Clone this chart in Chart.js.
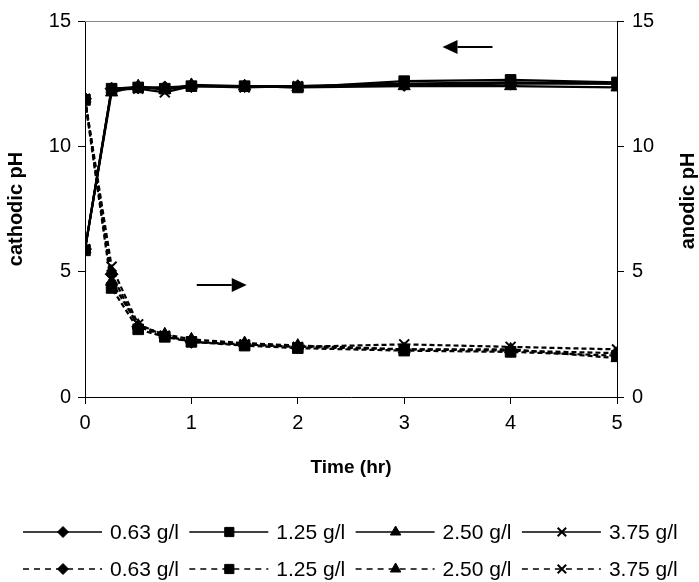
<!DOCTYPE html>
<html>
<head>
<meta charset="utf-8">
<title>cathodic / anodic pH</title>
<script src="https://cdn.jsdelivr.net/npm/chart.js@4/dist/chart.umd.min.js"></script>
<style>
  html, body { margin: 0; padding: 0; background: #fff; }
  canvas { display: block; }
</style>
</head>
<body>
<canvas id="phChart" width="699" height="582"></canvas>
<script>
// sampling times (hr)
const times = [0, 0.25, 0.5, 0.75, 1, 1.5, 2, 3, 4, 5];
const concLabels = ['0.63 g/l', '1.25 g/l', '2.50 g/l', '3.75 g/l'];

// cathodic pH (left axis)
const cath063 = [5.9, 12.3, 12.35, 12.35, 12.4, 12.4, 12.4, 12.45, 12.5, 12.5];
const cath125 = [5.85, 12.3, 12.35, 12.3, 12.4, 12.4, 12.35, 12.6, 12.65, 12.55];
const cath250 = [5.9, 12.15, 12.4, 12.25, 12.45, 12.4, 12.35, 12.4, 12.4, 12.35];
const cath375 = [5.9, 12.25, 12.3, 12.15, 12.4, 12.35, 12.4, 12.5, 12.55, 12.5];

// anodic pH (right axis)
const an063 = [11.9, 4.9, 2.8, 2.45, 2.2, 2.1, 2.0, 1.9, 1.85, 1.75];
const an125 = [11.85, 4.35, 2.7, 2.4, 2.2, 2.05, 1.95, 1.85, 1.8, 1.65];
const an250 = [11.9, 4.6, 2.85, 2.5, 2.3, 2.15, 2.05, 1.9, 1.9, 1.55];
const an375 = [11.9, 5.2, 2.9, 2.45, 2.2, 2.1, 2.0, 2.1, 2.0, 1.9];

const phTicks = [0, 5, 10, 15];
const timeTicks = [0, 1, 2, 3, 4, 5];

// arrows telling which axis each group belongs to (time, pH)
const arrows = [
  { from: [3.83, 13.96], to: [3.36, 13.96] },
  { from: [1.05, 4.47], to: [1.52, 4.47] }
];

const markers = ['rectRot', 'rect', 'triangle', 'crossRot'];
const markerSize = { rectRot: 6.5, rect: 7.5, triangle: 7, crossRot: 7 };
const FONT = "'Liberation Sans', Arial, sans-serif";

Chart.defaults.font.family = FONT;
Chart.defaults.color = '#000';

function toPoints(values) {
  return values.map((v, i) => ({ x: times[i], y: v }));
}

function makeSet(label, values, idx, dashed) {
  const style = markers[idx];
  return {
    label: label,
    data: toPoints(values),
    yAxisID: dashed ? 'y2' : 'y',
    borderColor: '#000',
    backgroundColor: '#000',
    borderWidth: 2.2,
    borderDash: dashed ? [5, 3] : [],
    pointStyle: style,
    pointRadius: markerSize[style],
    pointBorderWidth: style === 'crossRot' ? 2 : 1,
    pointBackgroundColor: '#000',
    pointBorderColor: '#000',
    tension: 0
  };
}

const cathodic = [cath063, cath125, cath250, cath375];
const anodic = [an063, an125, an250, an375];

const datasets = [];
cathodic.forEach((vals, i) => datasets.push(makeSet(concLabels[i], vals, i, false)));
anodic.forEach((vals, i) => datasets.push(makeSet(concLabels[i], vals, i, true)));

// grey frame line along the top of the plot
const topLine = {
  id: 'topLine',
  beforeDatasetsDraw(chart) {
    const { ctx, chartArea } = chart;
    ctx.save();
    ctx.strokeStyle = '#888';
    ctx.lineWidth = 1;
    ctx.beginPath();
    ctx.moveTo(chartArea.left, chartArea.top + 0.5);
    ctx.lineTo(chartArea.right, chartArea.top + 0.5);
    ctx.stroke();
    ctx.restore();
  }
};

// right axis title, reading upwards like the left one
const rightTitle = {
  id: 'rightTitle',
  afterDraw(chart) {
    const { ctx, chartArea } = chart;
    ctx.save();
    ctx.translate(688, (chartArea.top + chartArea.bottom) / 2 - 8);
    ctx.rotate(-Math.PI / 2);
    ctx.font = 'bold 20px ' + FONT;
    ctx.fillStyle = '#000';
    ctx.textAlign = 'center';
    ctx.textBaseline = 'middle';
    ctx.fillText('anodic pH', 0, 0);
    ctx.restore();
  }
};

const arrowPlugin = {
  id: 'arrowPlugin',
  afterDatasetsDraw(chart) {
    const { ctx, scales } = chart;
    ctx.save();
    ctx.strokeStyle = '#000';
    ctx.fillStyle = '#000';
    ctx.lineWidth = 2;
    arrows.forEach(a => {
      const x1 = scales.x.getPixelForValue(a.from[0]);
      const y1 = scales.y.getPixelForValue(a.from[1]);
      const x2 = scales.x.getPixelForValue(a.to[0]);
      const y2 = scales.y.getPixelForValue(a.to[1]);
      const ang = Math.atan2(y2 - y1, x2 - x1);
      const head = 15;
      const bx = x2 - head * Math.cos(ang);
      const by = y2 - head * Math.sin(ang);
      ctx.beginPath();
      ctx.moveTo(x1, y1);
      ctx.lineTo(bx, by);
      ctx.stroke();
      ctx.beginPath();
      ctx.moveTo(x2, y2);
      ctx.lineTo(bx + 7 * Math.sin(ang), by - 7 * Math.cos(ang));
      ctx.lineTo(bx - 7 * Math.sin(ang), by + 7 * Math.cos(ang));
      ctx.closePath();
      ctx.fill();
    });
    ctx.restore();
  }
};

// two-row legend: solid (cathodic) row above dashed (anodic) row
const lineLegend = {
  id: 'lineLegend',
  afterDraw(chart) {
    const ctx = chart.ctx;
    const rowY = [532, 569];
    ctx.save();
    chart.data.datasets.forEach((ds, i) => {
      const row = i < 4 ? 0 : 1;
      const col = i % 4;
      const x0 = 23 + col * 166.3;
      const y = rowY[row];
      ctx.strokeStyle = '#000';
      ctx.lineWidth = 1.6;
      ctx.setLineDash(ds.borderDash.length ? [6, 5] : []);
      ctx.beginPath();
      ctx.moveTo(x0, y);
      ctx.lineTo(x0 + 79, y);
      ctx.stroke();
      ctx.setLineDash([]);
      ctx.fillStyle = '#000';
      ctx.lineWidth = ds.pointBorderWidth;
      Chart.helpers.drawPoint(ctx, {
        pointStyle: ds.pointStyle,
        radius: ds.pointRadius - 1,
        rotation: 0,
        borderWidth: ds.pointBorderWidth
      }, x0 + 40, y);
      ctx.font = '21px ' + FONT;
      ctx.textAlign = 'left';
      ctx.textBaseline = 'middle';
      ctx.fillText(ds.label, x0 + 87, y + 1);
    });
    ctx.restore();
  }
};

const ctx = document.getElementById('phChart').getContext('2d');

new Chart(ctx, {
  type: 'line',
  data: { datasets: datasets },
  options: {
    responsive: false,
    animation: false,
    layout: { padding: { top: 21, bottom: 99, left: 0, right: 0 } },
    plugins: {
      legend: { display: false },
      tooltip: { enabled: false }
    },
    scales: {
      x: {
        type: 'linear',
        min: 0,
        max: 5,
        afterBuildTicks: s => { s.ticks = timeTicks.map(v => ({ value: v })); },
        afterFit: s => { s.height = 86; },
        grid: { drawOnChartArea: false, drawTicks: true, tickLength: 7, color: '#000' },
        border: { color: '#000', width: 1 },
        ticks: { font: { size: 20 }, padding: 7, maxRotation: 0 },
        title: { display: true, text: 'Time (hr)', font: { size: 19, weight: 'bold' } }
      },
      y: {
        position: 'left',
        min: 0,
        max: 15,
        afterBuildTicks: s => { s.ticks = phTicks.map(v => ({ value: v })); },
        afterFit: s => { s.width = 85; },
        grid: { drawOnChartArea: false, drawTicks: true, tickLength: 7, color: '#000' },
        border: { color: '#000', width: 1 },
        ticks: { font: { size: 20 }, padding: 7 },
        title: { display: true, text: 'cathodic pH', font: { size: 20, weight: 'bold' } }
      },
      y2: {
        position: 'right',
        min: 0,
        max: 15,
        afterBuildTicks: s => { s.ticks = phTicks.map(v => ({ value: v })); },
        afterFit: s => { s.width = 82; },
        grid: { drawOnChartArea: false, drawTicks: true, tickLength: 7, color: '#000' },
        border: { color: '#000', width: 1 },
        ticks: { font: { size: 20 }, padding: 8 },
        title: { display: false }
      }
    }
  },
  plugins: [topLine, arrowPlugin, rightTitle, lineLegend]
});
</script>
</body>
</html>
